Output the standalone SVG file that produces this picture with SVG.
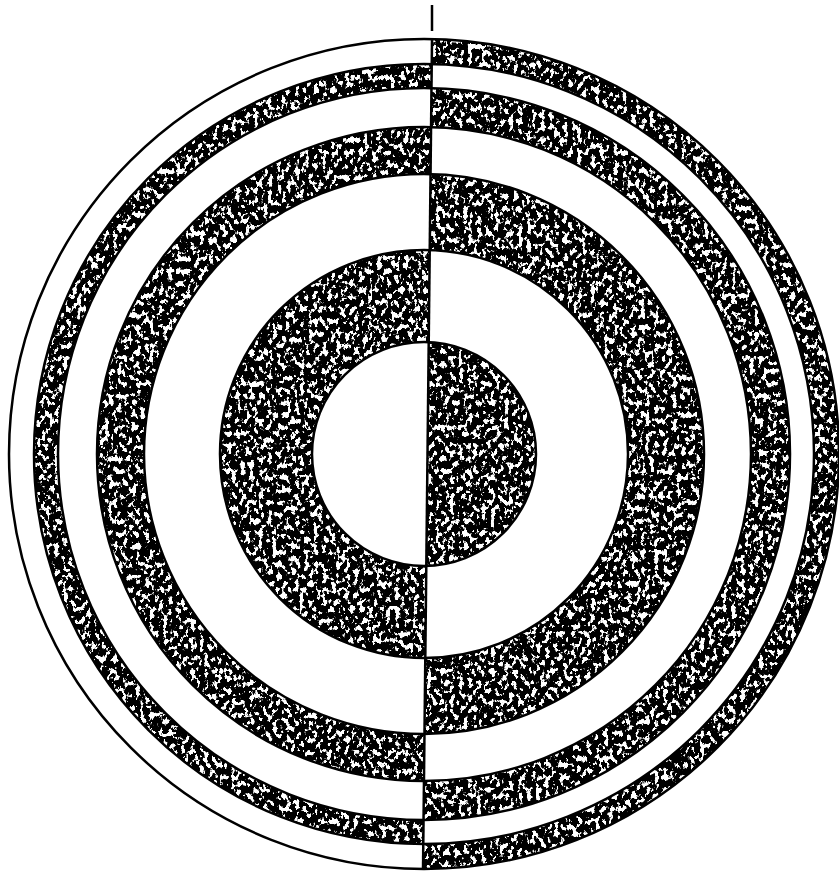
<svg xmlns="http://www.w3.org/2000/svg" width="839" height="872" viewBox="0 0 839 872">
<defs>
<filter id="crayon" x="-5%" y="-5%" width="110%" height="110%" color-interpolation-filters="sRGB">
<feTurbulence type="fractalNoise" baseFrequency="0.22 0.16" numOctaves="3" seed="11" result="n"/>
<feColorMatrix in="n" type="matrix" values="0 0 0 0 0  0 0 0 0 0  0 0 0 0 0  -16 0 0 0 9.6" result="k"/>
<feComposite in="k" in2="SourceGraphic" operator="in"/>
</filter>
<clipPath id="lh"><polygon points="0,0 432.4,0 422.9,872 0,872"/></clipPath>
<clipPath id="rh"><polygon points="432.4,0 839,0 839,872 422.9,872"/></clipPath>
</defs>
<style>
.d{fill:#000;filter:url(#crayon)}
.w{fill:#fff}
.ln{fill:none;stroke:#000;stroke-width:2.5}
</style>
<rect width="839" height="872" fill="#fff"/>
<g id="left-half" clip-path="url(#lh)">
<circle class="w" cx="424" cy="454" r="415"/>
<circle class="d" cx="424" cy="454" r="390"/>
<circle class="w" cx="424" cy="454" r="366"/>
<circle class="d" cx="424" cy="454" r="327"/>
<circle class="w" cx="424" cy="454" r="280"/>
<circle class="d" cx="424" cy="454" r="204"/>
<circle class="w" cx="424" cy="454" r="112"/>
</g>
<g id="right-half" clip-path="url(#rh)">
<circle class="d" cx="424" cy="454" r="415"/>
<circle class="w" cx="424" cy="454" r="390"/>
<circle class="d" cx="424" cy="454" r="366"/>
<circle class="w" cx="424" cy="454" r="327"/>
<circle class="d" cx="424" cy="454" r="280"/>
<circle class="w" cx="424" cy="454" r="204"/>
<circle class="d" cx="424" cy="454" r="112"/>
</g>
<g id="outlines">
<circle class="ln" cx="424" cy="454" r="415" stroke-width="3"/>
<circle class="ln" cx="424" cy="454" r="390"/>
<circle class="ln" cx="424" cy="454" r="366"/>
<circle class="ln" cx="424" cy="454" r="327"/>
<circle class="ln" cx="424" cy="454" r="280"/>
<circle class="ln" cx="424" cy="454" r="204"/>
<circle class="ln" cx="424" cy="454" r="112"/>
<line class="ln" x1="432" y1="40" x2="423" y2="870"/>
<line class="ln" x1="432" y1="5" x2="432" y2="31"/>
</g>
</svg>
